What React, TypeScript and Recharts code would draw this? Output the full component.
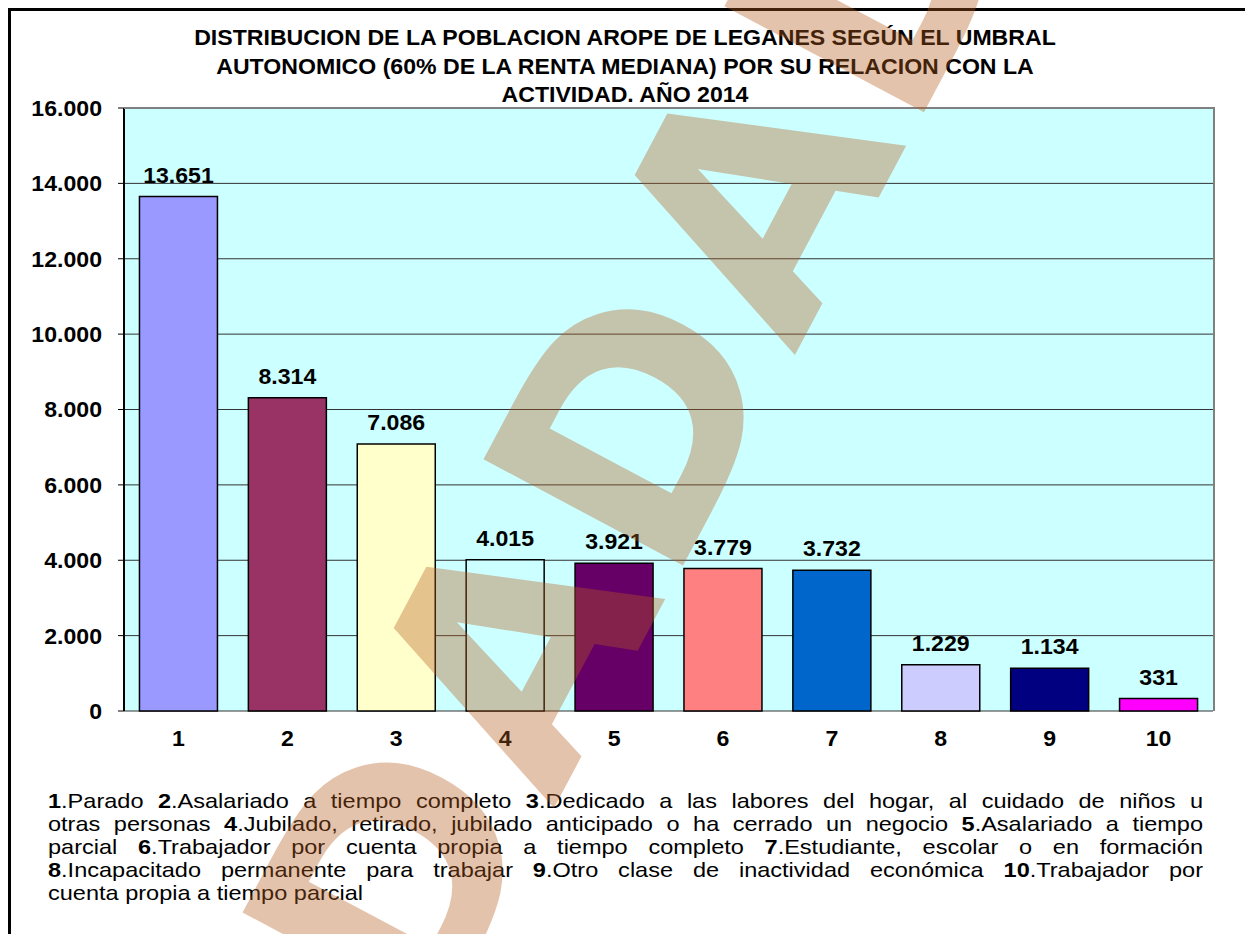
import React from 'react'
import { BarChart, Bar, XAxis, YAxis, CartesianGrid, Cell, LabelList } from 'recharts'

// datos
const categorias = ['1', '2', '3', '4', '5', '6', '7', '8', '9', '10']
const personas = [13651, 8314, 7086, 4015, 3921, 3779, 3732, 1229, 1134, 331]
const colores = ['#9999FF', '#993366', '#FFFFCC', '#CCFFFF', '#660066', '#FF8080', '#0066CC', '#CCCCFF', '#000080', '#FF00FF']
const ticksY = [0, 2000, 4000, 6000, 8000, 10000, 12000, 14000, 16000]
const bordesX = [0, 1, 2, 3, 4, 5, 6, 7, 8, 9, 10]

const titulo = [
  'DISTRIBUCION DE LA POBLACION AROPE DE LEGANES SEGÚN EL UMBRAL',
  'AUTONOMICO (60% DE LA RENTA MEDIANA) POR SU RELACION CON LA',
  'ACTIVIDAD. AÑO 2014',
]

// *n* = numero en negrita
const nota = [
  '*1*.Parado *2*.Asalariado a tiempo completo *3*.Dedicado a las labores del hogar, al cuidado de niños u',
  'otras personas *4*.Jubilado, retirado, jubilado anticipado o ha cerrado un negocio *5*.Asalariado a tiempo',
  'parcial *6*.Trabajador por cuenta propia a tiempo completo *7*.Estudiante, escolar o en formación',
  '*8*.Incapacitado permanente para trabajar *9*.Otro clase de inactividad económica *10*.Trabajador por',
  'cuenta propia a tiempo parcial',
]

const marcaAgua = 'DADAD'

const data = categorias.map((cat, i) => ({ cat, valor: personas[i] }))

const FONT = 'Arial, "Liberation Sans", sans-serif'
const SX = 1.05 // el original esta algo estirado en horizontal
const SX_NOTA = 1.12
const W = 1245
const H = 934
const CHART_H = 770
const PLOT = { left: 124, top: 108, right: 1213, bottom: 711 }

const fmt = (v: number) => String(v).replace(/\B(?=(\d{3})+(?!\d))/g, '.')

const TickY = (props: any) => {
  const { x, y, payload } = props
  return (
    <text transform={`translate(${x},${y}) scale(${SX},1)`} textAnchor="end" dy="0.36em"
      fontSize={22} fontWeight="bold" fontFamily={FONT} fill="#000">
      {fmt(payload.value)}
    </text>
  )
}

const TickX = (props: any) => {
  const { x, y, payload } = props
  return (
    <text transform={`translate(${x},${y + 35}) scale(${SX},1)`} textAnchor="middle"
      fontSize={22} fontWeight="bold" fontFamily={FONT} fill="#000">
      {payload.value}
    </text>
  )
}

const Etiqueta = (props: any) => {
  const { x, y, width, value } = props
  return (
    <text transform={`translate(${x + width / 2},${y - 14}) scale(${SX},1)`} textAnchor="middle"
      fontSize={22} fontWeight="bold" fontFamily={FONT} fill="#000">
      {fmt(value)}
    </text>
  )
}

const Nota = ({ linea, ultima }: { linea: string; ultima: boolean }) => {
  const partes = linea.split('*')
  return (
    <div style={{
      width: 1155 / SX_NOTA, transform: `scaleX(${SX_NOTA})`, transformOrigin: 'left center',
      textAlign: 'justify', textAlignLast: ultima ? 'left' : 'justify',
      whiteSpace: 'nowrap', height: 23, lineHeight: '23px',
    }}>
      {partes.map((p, i) => (i % 2 === 1 ? <b key={i}>{p}</b> : <span key={i}>{p}</span>))}
    </div>
  )
}

export default function App() {
  return (
    <div style={{ position: 'absolute', left: 0, top: 0, width: W, height: H, overflow: 'hidden', background: '#fff', fontFamily: FONT, color: '#000' }}>
      <div style={{ position: 'absolute', left: 8, top: 8, width: W + 50, height: H + 50, borderTop: '3px solid #000', borderLeft: '3px solid #000' }} />

      {titulo.map((t, i) => (
        <div key={i} style={{
          position: 'absolute', left: 0, width: 1250, top: 25 + i * 28.5, height: 26, lineHeight: '26px',
          textAlign: 'center', fontSize: 22, fontWeight: 'bold', whiteSpace: 'nowrap',
          transform: `scaleX(${SX})`, transformOrigin: '625px 50%',
        }}>{t}</div>
      ))}

      <div style={{ position: 'absolute', left: 0, top: 0 }}>
        <BarChart width={W} height={CHART_H} data={data} barCategoryGap="14.2%"
          margin={{ top: PLOT.top, right: W - PLOT.right, left: PLOT.left - 100, bottom: CHART_H - PLOT.bottom - 40 }}>
          <CartesianGrid xAxisId="cat" vertical={false} stroke="#333" fill="#CCFFFF" fillOpacity={1} />
          <XAxis xAxisId="bordes" type="number" domain={[0, 10]} ticks={bordesX} height={0} interval={0}
            tickSize={7} axisLine={{ stroke: '#000', strokeWidth: 1.5 }} tickLine={{ stroke: '#000' }}
            tick={() => null} allowDataOverflow />
          <XAxis xAxisId="cat" dataKey="cat" height={40} interval={0} axisLine={false} tickLine={false}
            tickSize={0} tickMargin={0} tick={<TickX />} />
          <YAxis width={100} domain={[0, 16000]} ticks={ticksY} interval={0} tickSize={6} tickMargin={16}
            axisLine={{ stroke: '#000', strokeWidth: 2 }} tickLine={{ stroke: '#000' }} tick={<TickY />} />
          <Bar xAxisId="cat" dataKey="valor" stroke="#000" strokeWidth={1.5} isAnimationActive={false}>
            {data.map((d, i) => <Cell key={d.cat} fill={colores[i]} />)}
            <LabelList dataKey="valor" content={<Etiqueta />} />
          </Bar>
        </BarChart>
      </div>

      <div style={{
        position: 'absolute', left: PLOT.left, top: PLOT.top - 1, width: PLOT.right - PLOT.left + 2,
        height: PLOT.bottom - PLOT.top + 1, borderTop: '2px solid #808080', borderRight: '2px solid #808080',
        boxSizing: 'border-box', pointerEvents: 'none',
      }} />

      <div style={{ position: 'absolute', left: 48, top: 789, fontSize: 21 }}>
        {nota.map((l, i) => <Nota key={i} linea={l} ultima={i === nota.length - 1} />)}
      </div>

      <svg width={W} height={H} style={{ position: 'absolute', left: 0, top: 0, pointerEvents: 'none' }}>
        <g opacity={0.37}>
          <text transform="translate(428.7,1043.7) rotate(-62)" fontFamily="DejaVu Sans" fontWeight="bold"
            fontSize={310} fill="#B75E20" style={{ letterSpacing: '8px' }}>{marcaAgua}</text>
        </g>
      </svg>
    </div>
  )
}
